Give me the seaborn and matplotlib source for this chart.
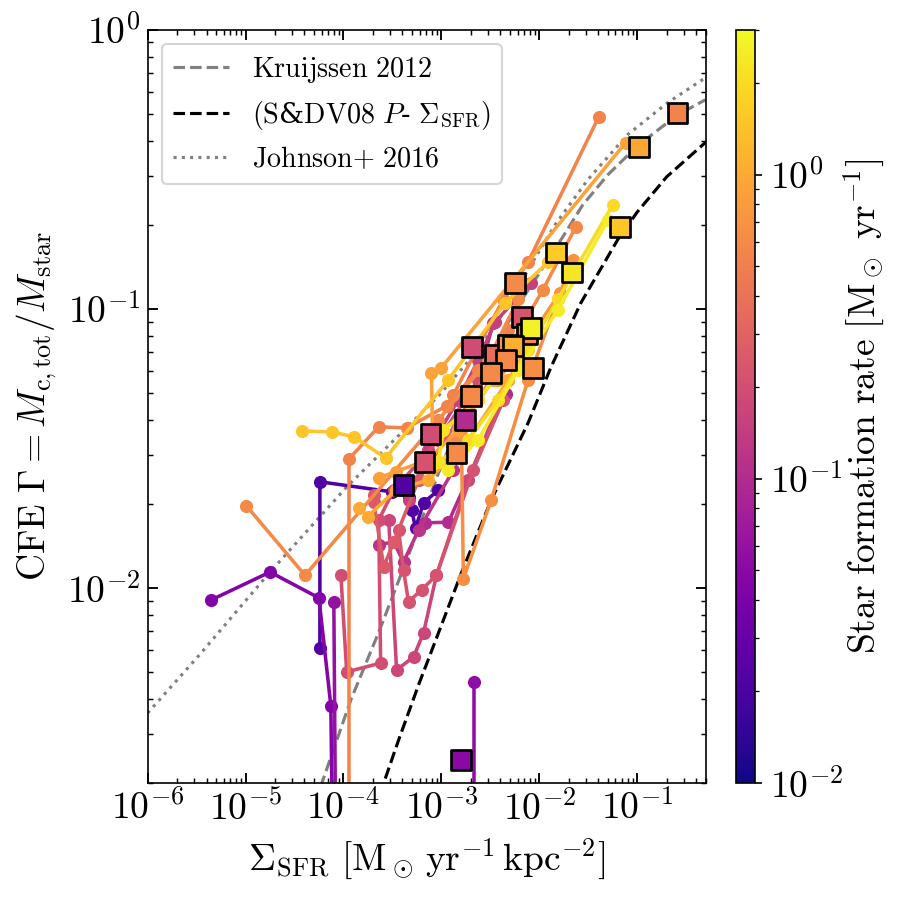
import numpy as np
import pandas as pd
import matplotlib
matplotlib.use("Agg")
import matplotlib.pyplot as plt
import seaborn as sns
from matplotlib.colors import LogNorm
from matplotlib.cm import ScalarMappable
from matplotlib.ticker import FuncFormatter, NullFormatter, LogLocator

sns.set_style("ticks")
plt.rcParams["mathtext.fontset"] = "cm"
plt.rcParams["font.family"] = ["DejaVu Serif"]
plt.rcParams["text.color"] = "black"
plt.rcParams["axes.labelcolor"] = "black"
plt.rcParams["axes.edgecolor"] = "black"
plt.rcParams["xtick.color"] = "black"
plt.rcParams["ytick.color"] = "black"

# ---------------- reference relations ----------------
kru_sig = [4.5e-5, 6.03e-5, 1.19e-4, 2.34e-4, 4.97e-4, 9.35e-4, 1.39e-3, 2.02e-3, 2.81e-3,
           3.81e-3, 6.08e-3, 9.72e-3, 1.67e-2, 2.79e-2, 5.01e-2, 1.01e-1, 2.58e-1, 4.98e-1]
kru_gam = [1.5e-3, 2.00e-3, 3.97e-3, 7.06e-3, 1.40e-2, 2.58e-2, 3.60e-2, 4.72e-2, 6.19e-2,
           7.74e-2, 0.103, 0.132, 0.177, 0.236, 0.302, 0.384, 0.495, 0.561]

sdv_sig = [2.1e-4, 2.58e-4, 3.66e-4, 5.85e-4, 9.35e-4, 1.60e-3, 3.24e-3, 7.69e-3, 1.32e-2,
           2.66e-2, 6.34e-2, 0.1, 0.2, 0.5]
sdv_gam = [1.6e-3, 2.0e-3, 2.85e-3, 4.49e-3, 6.90e-3, 1.13e-2, 2.07e-2, 3.90e-2, 6.19e-2,
           0.105, 0.177, 0.222, 0.297, 0.395]

joh_sig = [1e-6, 3.38e-6, 1.78e-5, 1.08e-4, 4.73e-4, 9.57e-4, 2.38e-3, 4.49e-3, 8.26e-3,
           1.45e-2, 3.13e-2, 8.0e-2, 0.204, 0.498]
joh_gam = [3.56e-3, 5.75e-3, 1.14e-2, 2.30e-2, 3.84e-2, 4.92e-2, 7.13e-2, 9.91e-2, 0.144,
           0.200, 0.290, 0.421, 0.547, 0.673]

# ---------------- galaxy tracks ----------------
track_sfr = [0.55, 0.9, 1.5, 2.0, 2.5, 0.6, 0.7, 0.15, 0.2, 0.25, 0.17, 0.22, 0.1, 0.12,
             0.022, 0.045, 0.06, 0.055, 0.6, 0.55, 0.65, 1.0, 0.85, 2.2]
track_sig = [
    [4.06e-2, 7.69e-3, 4.29e-3, 2.28e-3, 1.33e-3],
    [7.64e-2, 1.00e-3, 7.93e-4, 8.11e-4, 1.89e-3],
    [3.78e-5, 7.62e-5, 1.28e-4, 2.70e-4, 1.18e-3, 4.49e-3, 1.23e-2],
    [5.64e-2, 1.55e-2, 7.69e-3, 3.81e-3, 1.89e-3, 9.35e-4],
    [5.01e-2, 1.55e-2, 6.08e-3, 2.38e-3, 1.18e-3],
    [2.37e-2, 1.09e-2, 4.82e-3, 2.38e-3, 1.33e-3],
    [2.21e-2, 1.63e-2, 7.69e-3, 3.81e-3],
    [8.26e-3, 3.55e-3, 2.38e-3, 1.49e-3, 7.39e-4, 4.62e-4],
    [9.42e-5, 1.08e-4, 2.40e-4, 2.29e-4, 3.26e-4, 9.35e-4, 2.38e-3],
    [2.04e-4, 2.04e-4, 2.58e-4, 3.26e-4, 5.85e-4, 1.49e-3, 3.01e-3],
    [2.90e-4, 3.49e-4, 5.20e-4, 6.58e-4, 8.91e-4, 1.89e-3, 4.82e-3],
    [3.66e-4, 4.11e-4, 4.62e-4, 6.28e-4, 8.91e-4, 2.12e-3, 4.29e-3],
    [6.89e-4, 1.18e-3, 4.59e-3],
    [2.29e-4, 3.26e-4, 4.11e-4, 5.85e-4, 1.33e-3, 3.39e-3],
    [5.75e-5, 5.75e-5, 3.10e-4, 4.62e-4, 4.97e-4, 5.46e-4, 6.58e-4, 9.35e-4],
    [4.48e-6, 1.78e-5, 5.62e-5, 7.44e-5, 7.80e-5],
    [7.98e-5, 8.37e-5],
    [2.17e-3, 2.17e-3],
    [1.02e-5, 4.05e-5, 9.35e-4, 3.01e-3, 6.08e-3],
    [1.14e-4, 1.14e-4, 2.29e-4, 4.42e-4, 1.13e-3, 2.38e-3, 4.82e-3],
    [1.60e-3, 1.68e-3, 3.24e-3, 7.69e-3, 1.55e-2],
    [1.43e-4, 1.77e-4, 3.41e-4, 7.39e-4, 1.89e-3, 4.82e-3, 9.72e-3],
    [2.29e-4, 3.41e-4, 7.39e-4, 1.49e-3, 3.39e-3],
    [9.35e-4, 1.05e-3, 2.38e-3, 4.82e-3, 8.65e-3],
]
track_gam = [
    [0.488, 0.147, 0.108, 0.0713, 0.0492],
    [0.394, 0.0615, 0.0590, 0.0368, 0.0400],
    [0.0365, 0.0362, 0.0348, 0.0292, 0.0557, 0.105, 0.147],
    [0.236, 0.108, 0.0713, 0.0472, 0.0339, 0.0283],
    [0.208, 0.0991, 0.0604, 0.0339, 0.0265],
    [0.197, 0.117, 0.0713, 0.0472, 0.0339],
    [0.150, 0.114, 0.0774, 0.0557],
    [0.124, 0.0898, 0.0656, 0.0472, 0.0313, 0.0207],
    [0.0111, 0.00500, 0.00538, 0.0175, 0.0224, 0.0339, 0.0557],
    [0.0215, 0.0203, 0.0119, 0.0146, 0.0244, 0.0400, 0.0604],
    [0.0175, 0.00508, 0.00566, 0.00690, 0.0111, 0.0244, 0.0557],
    [0.0161, 0.0116, 0.00891, 0.00984, 0.0111, 0.0265, 0.0472],
    [0.0171, 0.0172, 0.0496],
    [0.0143, 0.0146, 0.0124, 0.0161, 0.0265, 0.0891],
    [0.00610, 0.0240, 0.0221, 0.0212, 0.0190, 0.0164, 0.0202, 0.0224],
    [0.00906, 0.0114, 0.00921, 0.00378, 0.001],
    [0.00891, 0.001],
    [0.00460, 0.001],
    [0.0197, 0.0111, 0.0400, 0.0656, 0.108],
    [0.001, 0.0290, 0.0378, 0.0374, 0.0449, 0.0604, 0.0841],
    [0.0368, 0.0108, 0.0207, 0.0557, 0.108],
    [0.0194, 0.0180, 0.0224, 0.0244, 0.0339, 0.0557, 0.0841],
    [0.0248, 0.0261, 0.0288, 0.0368, 0.0557],
    [0.0283, 0.0368, 0.0472, 0.0656, 0.0841],
]

# ---------------- summary squares ----------------
sq_sig = [2.58e-1, 1.04e-1, 6.64e-2, 1.48e-2, 2.16e-2, 5.68e-3, 6.68e-3, 7.52e-3, 8.26e-3,
          2.07e-3, 3.55e-3, 4.82e-3, 5.41e-3, 4.59e-3, 3.24e-3, 8.65e-3, 2.02e-3, 1.76e-3,
          7.74e-4, 1.43e-3, 6.73e-4, 4.11e-4, 1.60e-3]
sq_gam = [0.504, 0.381, 0.197, 0.159, 0.135, 0.124, 0.0936, 0.0813, 0.0855,
          0.0731, 0.0684, 0.0743, 0.0737, 0.0656, 0.0590, 0.0615, 0.0488, 0.0400,
          0.0356, 0.0305, 0.0283, 0.0234, 0.00242]
sq_sfr = [0.55, 0.95, 1.5, 1.6, 2.3, 0.6, 0.23, 0.6, 2.7,
          0.19, 0.36, 0.7, 1.1, 0.6, 0.6, 0.65, 0.6, 0.1,
          0.2, 0.6, 0.22, 0.022, 0.05]

rows = []
for i, (s, g) in enumerate(zip(track_sig, track_gam)):
    for j, (a, b) in enumerate(zip(s, g)):
        rows.append({"sig": a, "gam": b, "track": i, "sfr": track_sfr[i], "step": j})
tracks = pd.DataFrame(rows)
squares = pd.DataFrame({"sig": sq_sig, "gam": sq_gam, "sfr": sq_sfr})

norm = LogNorm(vmin=0.01, vmax=3.0)

fig = plt.figure(figsize=(6, 6), dpi=150)
ax = fig.add_axes([0.164, 0.13, 0.620, 0.837])
cax = fig.add_axes([0.818, 0.13, 0.021, 0.837])
ax.set_xscale("log")
ax.set_yscale("log")

ax.plot(kru_sig, kru_gam, ls="--", color="gray", lw=1.5, label=r"$\mathrm{Kruijssen\ 2012}$")
ax.plot(sdv_sig, sdv_gam, ls="--", color="black", lw=1.5,
        label=r"$(\mathrm{S}$&$\mathrm{DV08}\ P$- $\Sigma_{\mathrm{SFR}})$")
ax.plot(joh_sig, joh_gam, ls=":", color="gray", lw=1.5,
        label=r"$\mathrm{Johnson}{+}\ \mathrm{2016}$")

sns.lineplot(data=tracks, x="sig", y="gam", hue="sfr", units="track", estimator=None,
             sort=False, palette="plasma", hue_norm=norm, marker="o", markersize=6.3,
             markeredgewidth=0, linewidth=1.7, legend=False, ax=ax)

sns.scatterplot(data=squares, x="sig", y="gam", hue="sfr", palette="plasma", hue_norm=norm,
                marker="s", s=90, edgecolor="black", linewidth=1.3, legend=False, ax=ax,
                zorder=5)

ax.set_xlim(1e-6, 0.5)
ax.set_ylim(2e-3, 1.0)

fmt = FuncFormatter(lambda v, p: r"$10^{%d}$" % int(round(np.log10(v))))
ax.xaxis.set_major_formatter(fmt)
ax.yaxis.set_major_formatter(fmt)
ax.xaxis.set_minor_formatter(NullFormatter())
ax.yaxis.set_minor_formatter(NullFormatter())
ax.xaxis.set_major_locator(LogLocator(base=10, numticks=20))
ax.xaxis.set_minor_locator(LogLocator(base=10, subs=np.arange(2, 10), numticks=20))
ax.tick_params(which="both", direction="in", top=True, right=True, labelsize=18)
ax.tick_params(which="major", length=5, width=0.9)
ax.tick_params(which="minor", length=2.5, width=0.7)

ax.set_xlabel(r"$\Sigma_{\mathrm{SFR}}\ [\mathrm{M}_\odot\,\mathrm{yr}^{-1}\,\mathrm{kpc}^{-2}]$",
              fontsize=18, labelpad=4)
ax.set_ylabel(r"$\mathrm{CFE}\ \Gamma = M_{\mathrm{c,tot}}/M_{\mathrm{star}}$", fontsize=18,
              labelpad=4)

leg = ax.legend(loc="upper left", fontsize=13.5, frameon=True, fancybox=True,
                edgecolor="0.8", framealpha=0.8)

sm = ScalarMappable(norm=norm, cmap="plasma")
cb = fig.colorbar(sm, cax=cax)
cb.ax.yaxis.set_major_formatter(fmt)
cb.ax.yaxis.set_minor_formatter(NullFormatter())
cb.ax.tick_params(labelsize=18)
cb.set_label(r"$\mathrm{Star\ formation\ rate}\ [\mathrm{M}_\odot\ \mathrm{yr}^{-1}]$",
             fontsize=18, labelpad=-1)

fig.savefig("out.png", dpi=150)
